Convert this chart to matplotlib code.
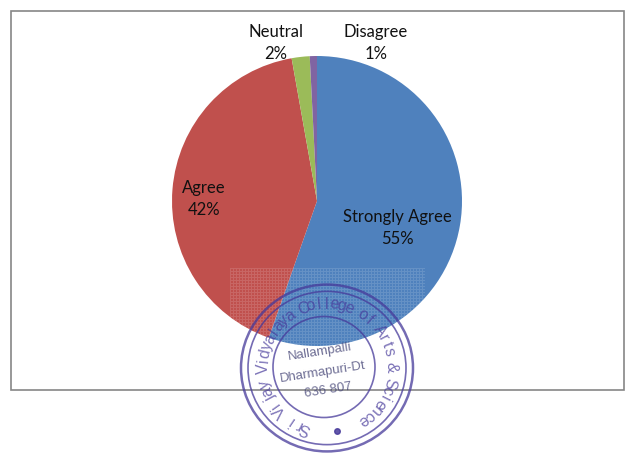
import numpy as np
import matplotlib
matplotlib.use("Agg")
import matplotlib.pyplot as plt
from matplotlib.patches import Rectangle, Ellipse

# pie data, shares, percents as printed
names = ["Strongly Agree", "Agree", "Neutral", "Disagree"]
shares = [55.4, 41.8, 2.0, 0.8]
percents = [55, 42, 2, 1]
colors = ["#4f81bd", "#c0504d", "#9bbb59", "#8064a2"]

# label positions in pixels of the picture
label_xy = [(397, 228), (204, 199), (276, 43), (376, 43)]

W, H = 625, 455
plt.rcParams["font.family"] = ["Lato", "DejaVu Sans"]
fig = plt.figure(figsize=(W / 100, H / 100), dpi=100)

# pie, centre 317,201 radius 145 px
cx, cy, r = 317, 201, 145
ax = fig.add_axes([(cx - r) / W, 1 - (cy + r) / H, 2 * r / W, 2 * r / H])
ax.pie(shares, colors=colors, startangle=90, counterclock=False, radius=1,
       wedgeprops={"linewidth": 0})
ax.set_xlim(-1, 1)
ax.set_ylim(-1, 1)

# overlay in pixel coordinates
top = fig.add_axes([0, 0, 1, 1])
top.axis("off")
top.patch.set_alpha(0)

top.add_patch(Rectangle((11, 11), 613, 379, fill=False, ec="#868686", lw=1.2))

for n, v, (x, y) in zip(names, percents, label_xy):
    top.text(x, y, "%s\n%d%%" % (n, v), ha="center", va="center", fontsize=12,
             color="#111111", linespacing=1.5)

# dotted scan patch behind the stamp
tile = np.zeros((78, 195, 4))
tile[..., :3] = 1
tile[::3, :, 3] = 0.13
tile[:, ::3, 3] = 0.13
top.imshow(tile, extent=(230, 425, 346, 268), interpolation="nearest", aspect="auto", zorder=2)
top.set_xlim(0, W)
top.set_ylim(H, 0)

# stamp
ink = "#46399a"
sx, sy = 327, 368
for rad, lw in [(86, 1.8), (79, 1.2)]:
    top.add_patch(Ellipse((sx, sy), 2 * rad, 2 * rad * 0.97, fill=False, ec=ink, lw=lw, alpha=0.75, zorder=3))
top.add_patch(Ellipse((324, 367), 102, 101, fill=False, ec=ink, lw=1.2, alpha=0.75, zorder=3))


def ring_text(txt, a0, a1, rad):
    # place letters one by one along the ring
    angs = np.radians(np.linspace(a0, a1, len(txt)))
    for c, a in zip(txt, angs):
        x = sx + rad * np.cos(a)
        y = sy - rad * np.sin(a)
        top.text(x, y, c, ha="center", va="center", rotation=np.degrees(a) - 90, fontsize=11.5,
                 color=ink, alpha=0.7, zorder=3, family="Liberation Sans")


ring_text("Sri Vijay Vidyalaya College of Arts & Science", 250, -55, 64)
top.plot([337], [431], "o", ms=4, color=ink, alpha=0.85, zorder=3)

for t, x, y, rot in [("Nallampalli", 320, 352, 9), ("Dharmapuri-Dt", 323, 372, 9), ("636 807", 328, 390, 9)]:
    top.text(x, y, t, ha="center", va="center", rotation=rot, fontsize=9.5, color="#4a4a7a",
             alpha=0.8, zorder=3, family="Liberation Sans")

fig.savefig("out.png", dpi=100)
